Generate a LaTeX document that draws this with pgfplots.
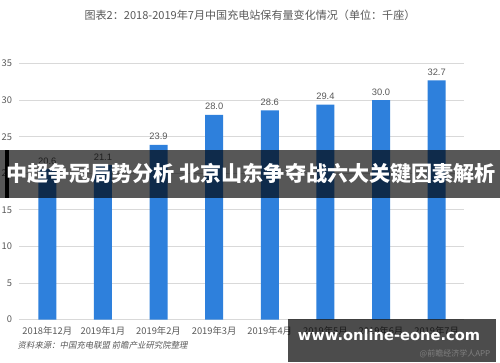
\documentclass[border=0pt]{standalone}
\usepackage{pgfplots}
\pgfplotsset{compat=1.18}
\usepackage{fontspec}
\setmainfont{Liberation Sans}
\newfontfamily\cjk{Noto Sans CJK SC}
\newfontfamily\cjkit{Noto Sans CJK SC}[FakeSlant=0.2]
\newfontfamily\dvs{DejaVu Sans}
\definecolor{barblue}{RGB}{46,128,220}
\definecolor{gridgray}{RGB}{217,217,217}
\definecolor{txtgray}{RGB}{89,89,89}
\begin{document}
\begin{tikzpicture}[x=0.75pt,y=0.75pt]
\useasboundingbox[fill=white] (0,0) rectangle (500,362);
\begin{axis}[
  at={(35,58)}, anchor=south west,
  scale only axis, width=333.75pt, height=192pt,
  xmin=-0.5, xmax=7.5, ymin=0, ymax=35,
  ytick={0,5,...,35},
  xtick=data,
  xticklabels={2018年12月,2019年1月,2019年2月,2019年3月,2019年4月,2019年5月,2019年6月,2019年7月},
  ticklabel style={font=\cjk\fontsize{7}{8}\selectfont, text=txtgray},
  /pgf/number format/assume math mode=true,
  major tick length=0pt,
  ymajorgrids, grid style={gridgray, line width=0.6pt},
  axis line style={draw=none},
  axis x line*=bottom, axis y line*=left,
  x axis line style={draw=gridgray, line width=0.6pt},
  yticklabel style={xshift=-2pt},
  xticklabel style={yshift=-2pt},
  clip=false,
]
\addplot[ybar, bar width=13.5pt, fill=barblue, draw=none,
  nodes near coords, nodes near coords style={font=\fontsize{7}{8}\selectfont, text=txtgray, /pgf/number format/.cd, fixed, fixed zerofill, precision=1},
] coordinates {(0,20.6) (1,21.1) (2,23.9) (3,28.0) (4,28.6) (5,29.4) (6,30.0) (7,32.7)};
\end{axis}
\node[font=\cjk\fontsize{8.3}{10}\selectfont, text=txtgray] at (250,347) {图表2：2018-2019年7月中国充电站保有量变化情况（单位：千座）};
\node[font=\cjkit\fontsize{6.3}{8}\selectfont, text=txtgray, anchor=west] at (13,17) {资料来源：中国充电联盟 前瞻产业研究院整理};
% overlay banners
\fill[black, opacity=0.66] (0,164) rectangle (500,212);
\fill[black] (5,164) rectangle (9,212);
\node[font=\cjk\bfseries\fontsize{15.8}{18}\selectfont, text=white] at (251,188) {中超争冠局势分析 北京山东争夺战六大关键因素解析};
\fill[black, opacity=0.7] (288,0) rectangle (496,43);
\node[font=\dvs\bfseries\fontsize{11}{13}\selectfont, text=white] at (389,27) {www.online-eone.com};
\node[font=\cjk\fontsize{6}{7}\selectfont, text=gray, anchor=east] at (495,8) {@前瞻经济学人APP};
\end{tikzpicture}
\end{document}
